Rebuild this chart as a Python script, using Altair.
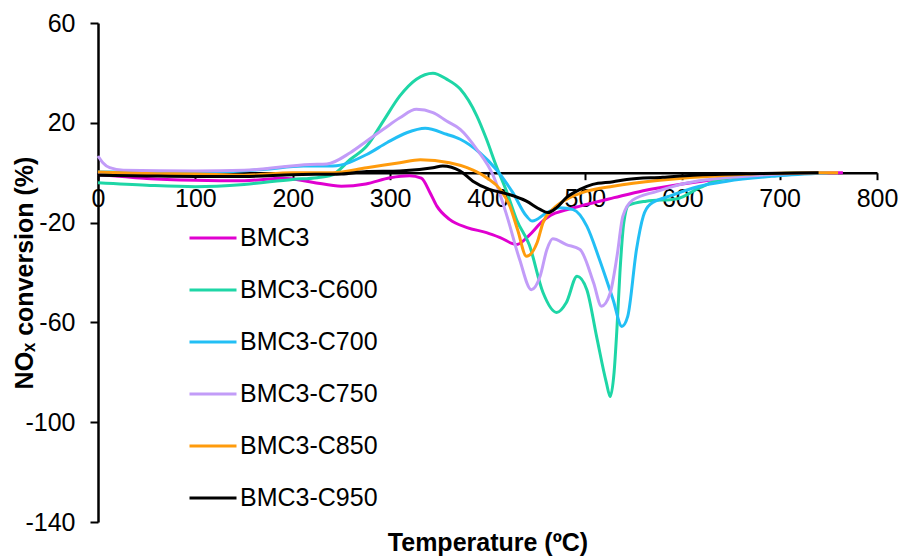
import altair as alt
import pandas as pd

series = ["BMC3", "BMC3-C600", "BMC3-C700", "BMC3-C750", "BMC3-C850", "BMC3-C950"]
colors = ["#E000D0", "#1ED6A6", "#22BFF5", "#C29CF8", "#FF9B0C", "#000000"]

t_bmc3 = [0, 25, 50, 100, 150, 190, 220, 250, 275, 300, 320, 332, 341, 348, 361, 379, 399, 413, 430, 443, 455, 465, 480, 495, 530, 560, 600, 650, 700, 740, 765]
v_bmc3 = [-0.7, -1.5, -2.3, -3, -3.2, -2.2, -3.8, -5.4, -4.5, -2, -1.2, -2.2, -8, -13.4, -18.7, -22, -24, -26, -28.8, -25, -20, -17, -15, -13.4, -10, -7.2, -4.5, -2, -0.5, 0, 0]

t_c600 = [0, 50, 100, 150, 200, 225, 240, 259, 276, 293, 310, 327, 344, 358, 372, 389, 399, 409, 420, 430, 443, 457, 471, 481, 492, 502, 512, 522, 526, 530, 533, 536, 540, 545, 563, 594, 618, 639, 680, 720, 750]
v_c600 = [-4, -5, -5.6, -4.7, -2.7, -2, -1, 5.3, 10.7, 20.7, 30.8, 37.5, 39.9, 37.5, 33.5, 22.8, 13.4, 2.7, -7.9, -19, -29, -48, -56, -52, -41.5, -46.9, -65.6, -84, -89.7, -80, -62, -40, -20, -13, -11.4, -10.5, -6, -2.7, -1, 0, 0]

t_c700 = [0, 50, 100, 170, 211, 241, 276, 297, 317, 336, 358, 372, 392, 409, 426, 440, 446, 461, 474, 488, 502, 515, 529, 538, 544, 553, 560, 567, 587, 618, 646, 697, 749]
v_c700 = [0.3, 0.3, 0, 1.3, 2.7, 2.7, 7.3, 12.1, 16, 17.8, 15.4, 13.4, 8, 1.3, -8, -17.4, -19.4, -16, -14, -14.8, -21.4, -34.8, -50.9, -61.6, -57.6, -30.8, -17.4, -12.7, -9.4, -5.4, -3.4, -1.3, 0]

t_c750 = [0, 5, 12, 26, 100, 150, 218, 235, 259, 276, 293, 310, 327, 344, 358, 372, 389, 406, 420, 433, 445, 454, 461, 467, 481, 495, 509, 517, 526, 533, 539, 549, 574, 600, 628, 680, 741, 760]
v_c750 = [6.7, 4, 2, 1, 0.7, 1, 3.3, 3.5, 8, 12.7, 17.4, 22, 25.4, 24.1, 20.7, 17.4, 9.4, -1.3, -17.4, -34.8, -46.9, -41.5, -30.8, -26.5, -28.8, -30.8, -44.2, -53.5, -48.2, -33.5, -17.4, -11, -7.5, -4.5, -2.7, -1, 0, 0]

t_c850 = [0, 50, 100, 150, 200, 241, 276, 310, 331, 361, 379, 399, 413, 423, 431, 440, 451, 457, 467, 481, 502, 529, 577, 646, 741, 760]
v_c850 = [0.3, -0.3, -0.5, -1, 0, 0, 2, 4, 5.2, 4, 2, -2, -6.7, -13.4, -23, -33.5, -28, -20, -14.7, -10.7, -7.4, -5.4, -3, -1, 0, 0]

t_c950 = [0, 50, 100, 150, 200, 250, 276, 310, 344, 354, 372, 385, 402, 420, 440, 454, 462, 471, 481, 495, 508, 529, 543, 580, 611, 680, 740]
v_c950 = [-1, -1.3, -1.5, -1.5, -0.8, -0.5, 0.5, 0.7, 2, 2.7, 0.7, -3.4, -6.7, -8.5, -11.4, -14.7, -16, -14, -10, -6.7, -4.7, -3.6, -2.7, -1.8, -1, -0.3, 0]

x_ticks = [0, 100, 200, 300, 400, 500, 600, 700, 800]
y_ticks = [-140, -100, -60, -20, 20, 60]

rows = []
for name, ts, vs in zip(series,
                        [t_bmc3, t_c600, t_c700, t_c750, t_c850, t_c950],
                        [v_bmc3, v_c600, v_c700, v_c750, v_c850, v_c950]):
    for i, (t, v) in enumerate(zip(ts, vs)):
        rows.append({"series": name, "T": t, "v": v, "i": i})
df = pd.DataFrame(rows)

W, H = 779, 499
zero_off = -H * 140 / 200  # place x axis at y = 0

FONT = "Liberation Sans"
FS = 25

chart = alt.Chart(df).mark_line(strokeWidth=3, interpolate="monotone").encode(
    x=alt.X("T:Q",
            scale=alt.Scale(domain=[0, 800], nice=False, zero=False),
            axis=alt.Axis(values=x_ticks, offset=zero_off, title="Temperature (ºC)",
                          titleY=370, titleBaseline="middle",
                          labelExpr="'' + datum.value",
                          labelFont=FONT, labelFontSize=FS, labelColor="black",
                          titleFont=FONT, titleFontSize=FS, titleFontWeight="bold", titleColor="black",
                          domainColor="black", domainWidth=2.5, tickColor="black", tickWidth=2,
                          tickSize=7, labelPadding=7, grid=False, labelFlush=False, labelOverlap=False)),
    y=alt.Y("v:Q",
            scale=alt.Scale(domain=[-140, 60], nice=False, zero=False),
            axis=alt.Axis(values=y_ticks, title="NOₓ conversion (%)",
                          labelExpr="'' + datum.value",
                          titleX=-66, titleBaseline="alphabetic",
                          labelFont=FONT, labelFontSize=FS, labelColor="black",
                          titleFont=FONT, titleFontSize=FS, titleFontWeight="bold", titleColor="black",
                          domainColor="black", domainWidth=2.5, tickColor="black", tickWidth=2,
                          tickSize=8, labelPadding=15, grid=False, labelFlush=False)),
    color=alt.Color("series:N",
                    scale=alt.Scale(domain=series, range=colors),
                    legend=alt.Legend(title=None, orient="none", legendX=90, legendY=190,
                                      symbolType="stroke", symbolSize=2209, symbolStrokeWidth=3,
                                      labelFont=FONT, labelFontSize=FS, labelColor="black",
                                      rowPadding=14, labelOffset=2, padding=0)),
    order="i:Q",
).properties(
    width=W, height=H,
    autosize=alt.AutoSizeParams(type="none"),
    padding={"left": 98, "top": 23, "right": 24, "bottom": 34},
).configure_view(stroke=None)

chart.save("out.html", embed_options={"renderer": "svg", "actions": False})
